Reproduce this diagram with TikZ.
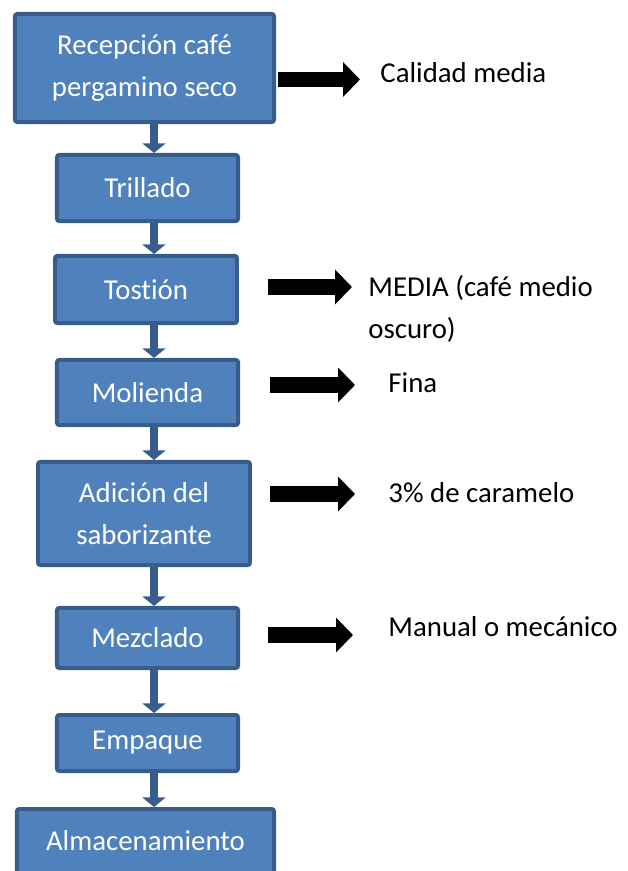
\documentclass[tikz,border=0pt]{standalone}
\usepackage{fontspec}
\setmainfont{Carlito}[Ligatures=NoCommon]
\usetikzlibrary{arrows.meta}
\definecolor{boxblue}{HTML}{4F81BD}
\definecolor{boxedge}{HTML}{385D8A}
\tikzset{
	stage/.style={draw=boxedge, fill=boxblue, line width=1.6pt, rounded corners=1pt, text=white, align=center, inner sep=0pt, font=\fontsize{12}{17.5}\selectfont},
	flow/.style={draw=boxedge, line width=3.5pt, -{Triangle[width=9.5pt,length=4pt]}},
	blockarrow/.style={line width=6.3pt, -{Triangle[width=14pt,length=7pt]}},
	note/.style={anchor=west, inner sep=0pt, align=left, font=\fontsize{12}{17.5}\selectfont}
}
\begin{document}
\begin{tikzpicture}[x=0.4167pt, y=-0.4167pt]
		\useasboundingbox (0,0) rectangle (628,871);

		\node[stage, minimum width=108pt, minimum height=45.1pt] (recepcion) at (144.5,68) {Recepción café\\pergamino seco};
		\node[stage, minimum width=75.5pt, minimum height=27.6pt] (trillado) at (147.5,188) {Trillado};
		\node[stage, minimum width=75.9pt, minimum height=28pt] (tostion) at (146,289.5) {Tost\kern0pt ión};
		\node[stage, minimum width=75.5pt, minimum height=27.2pt] (molienda) at (147.5,392.5) {Molienda};
		\node[stage, minimum width=88.4pt, minimum height=43pt] (adicion) at (144,513.5) {Adición del\\saborizante};
		\node[stage, minimum width=75.5pt, minimum height=25.1pt] (mezclado) at (147.5,638) {Mezclado};
		\node[stage, minimum width=75.5pt, minimum height=23.4pt] (empaque) at (147.5,743) {Empaque};
		\node[stage, minimum width=107.2pt, minimum height=26.7pt] (almacen) at (145.5,841) {Almacenamiento};

		\coordinate (axis) at (154,0);
		\foreach \a/\b in {recepcion/trillado, trillado/tostion, tostion/molienda, molienda/adicion, adicion/mezclado, mezclado/empaque, empaque/almacen} {\draw[flow] (\a.south -| axis) -- (\b.north -| axis);}

		\node[note] (calidad) at (380,73) {Calidad media};
		\node[note] (tueste) at (368,309) {MEDIA (café medio\\oscuro)};
		\node[note] (fina) at (388,383) {Fina};
		\node[note] (caramelo) at (388,493) {3\% de caramelo};
		\node[note] (manual) at (388,627) {Manual o mecánico};

		\coordinate (t1) at (278,79.5);
		\coordinate (h1) at (360,79.5);
		\coordinate (t2) at (268,287);
		\coordinate (h2) at (352,287);
		\coordinate (t3) at (270,385);
		\coordinate (h3) at (355,385);
		\coordinate (t4) at (270,494);
		\coordinate (h4) at (355,494);
		\coordinate (t5) at (268,635);
		\coordinate (h5) at (353,635);
		\foreach \i in {1,...,5} {\draw[blockarrow] (t\i) -- (h\i);}
	\end{tikzpicture}
\end{document}
